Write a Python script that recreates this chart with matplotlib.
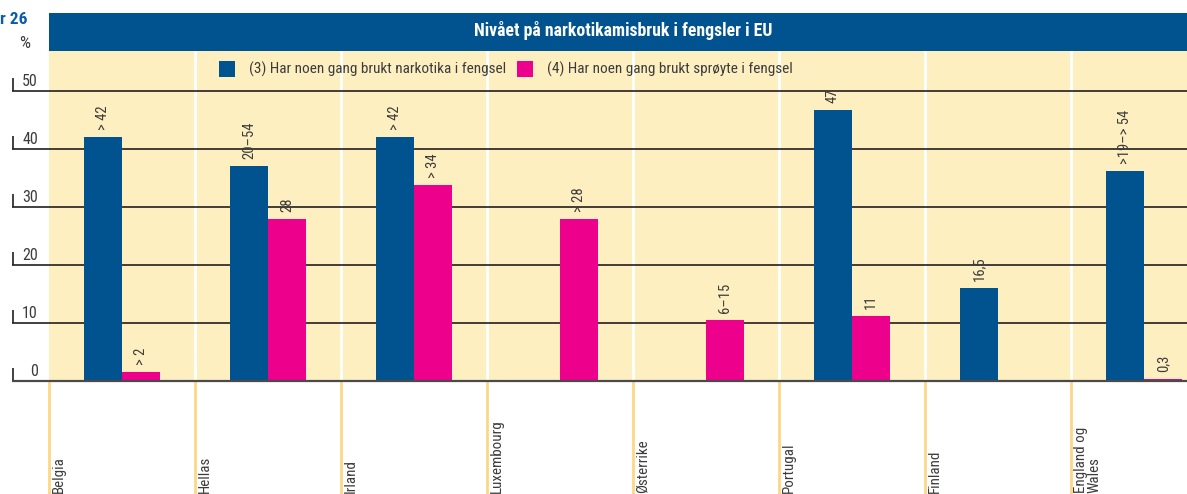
import numpy as np
import matplotlib
matplotlib.use("Agg")
import matplotlib.pyplot as plt
from matplotlib.patches import Rectangle
from matplotlib import font_manager as fm

_avail = {f.name for f in fm.fontManager.ttflist}
_pref = [f for f in ['Roboto Condensed', 'IBM Plex Sans Condensed', 'Open Sans'] if f in _avail]
plt.rcParams['font.family'] = _pref + ['DejaVu Sans']

# ---- data ----
categories = ["Belgia", "Hellas", "Irland", "Luxembourg", "Østerrike",
              "Portugal", "Finland", "England og\nWales"]
narkotika = [42, 37, 42, np.nan, np.nan, 46.7, 16, 36.2]
sproyte = [1.6, 28, 33.8, 28, 10.5, 11.2, np.nan, 0.4]
narkotika_labels = ["> 42", "20–54", "> 42", "", "", "47", "16,5", ">19–> 54"]
sproyte_labels = ["> 2", "28", "> 34", "> 28", "6–15", "11", "", "0,3"]
yticks = [0, 10, 20, 30, 40, 50]
title = "Nivået på narkotikamisbruk i fengsler i EU"
legend_labels = ["(3) Har noen gang brukt narkotika i fengsel",
                 "(4) Har noen gang brukt sprøyte i fengsel"]

BLUE = "#00538E"
PINK = "#EC008C"
YELLOW = "#FEEFC0"
SEP_ORANGE = "#FDD788"
GRID = "#231F20"
TXT = "#3C3C3C"

W, H = 1187, 494
fig = plt.figure(figsize=(W / 100, H / 100), dpi=100)


def fx(x):
    return x / W


def fy(y):
    return 1 - y / H


# axes geometry (pixels)
ax_left, ax_right = 12, 1187
y_zero, y_top, y_bot = 381, 51, 494
cat0 = 49
cat_w = 146.0
px_per_unit = 5.8

ax = fig.add_axes([fx(ax_left), fy(y_bot), fx(ax_right - ax_left), (y_bot - y_top) / H])
xmin = -(cat0 - ax_left) / cat_w
xmax = (ax_right - cat0) / cat_w
ymin = -(y_bot - y_zero) / px_per_unit
ymax = (y_zero - y_top) / px_per_unit
ax.set_xlim(xmin, xmax)
ax.set_ylim(ymin, ymax)
ax.axis("off")

n = len(categories)
# yellow panel
ax.add_patch(Rectangle((0, 0), n, ymax + 5, facecolor=YELLOW, edgecolor="none", zorder=0))
# separators
ax.vlines(np.arange(1, n), 0, ymax + 5, color="white", lw=2, zorder=1)
ax.vlines(np.arange(0, n), ymin, 0, color=SEP_ORANGE, lw=2, zorder=1)
# grid lines
ax.hlines(yticks[1:], xmin, xmax, color=GRID, lw=1.2, zorder=2)
ax.hlines([0], xmin, xmax, color="#4A4A4A", lw=1.6, zorder=4)
# tick marks and labels
tick_len = 13 / px_per_unit
ax.vlines([xmin + 1.0 / cat_w] * len(yticks), yticks, np.array(yticks) + tick_len,
          color=GRID, lw=1.2, zorder=2)
for v in yticks:
    ax.text(xmin + (38 - ax_left) / cat_w, v + 0.4, str(v), ha="right", va="bottom",
            fontsize=11.5, color=TXT)

# bars
bw = 38 / cat_w
centers = np.arange(n) + 0.5
ax.bar(centers - bw / 2, narkotika, bw, color=BLUE, zorder=3)
ax.bar(centers + bw / 2, sproyte, bw, color=PINK, zorder=3)

gap = 7 / px_per_unit
for c, v, lab in zip(centers - bw / 2, narkotika, narkotika_labels):
    if lab and not np.isnan(v):
        ax.text(c, v + gap, lab, rotation=90, ha="center", va="bottom",
                fontsize=10.5, color=TXT, zorder=5)
for c, v, lab in zip(centers + bw / 2, sproyte, sproyte_labels):
    if lab and not np.isnan(v):
        ax.text(c, v + gap, lab, rotation=90, ha="center", va="bottom",
                fontsize=10.5, color=TXT, zorder=5)

# category labels
for i, cat in enumerate(categories):
    ax.text(i + 3 / cat_w, ymin + 1 / px_per_unit, cat, rotation=90, ha="left",
            va="bottom", multialignment="left", fontsize=10.8, color=TXT,
            linespacing=0.95)

# header
fig.add_artist(Rectangle((fx(49), fy(51)), fx(W - 49), (51 - 13) / H,
                         transform=fig.transFigure, facecolor=BLUE, edgecolor="none"))
fig.text(fx(623), fy(31), title, ha="center", va="center", color="white",
         fontsize=12.8, fontweight="bold")
fig.text(fx(0), fy(19), "r 26", ha="left", va="center", color="#0B5DA8",
         fontsize=12.5, fontweight="bold")
fig.text(fx(25), fy(44), "%", ha="center", va="center", color=TXT, fontsize=12.5)

# legend
for (x0, col, tx, lab) in [(219, BLUE, 249, legend_labels[0]),
                           (517, PINK, 547, legend_labels[1])]:
    fig.add_artist(Rectangle((fx(x0), fy(77)), fx(16), 16 / H,
                             transform=fig.transFigure, facecolor=col, edgecolor="none"))
    fig.text(fx(tx), fy(69), lab, ha="left", va="center", color=TXT, fontsize=11)

fig.savefig("out.png", dpi=100)
